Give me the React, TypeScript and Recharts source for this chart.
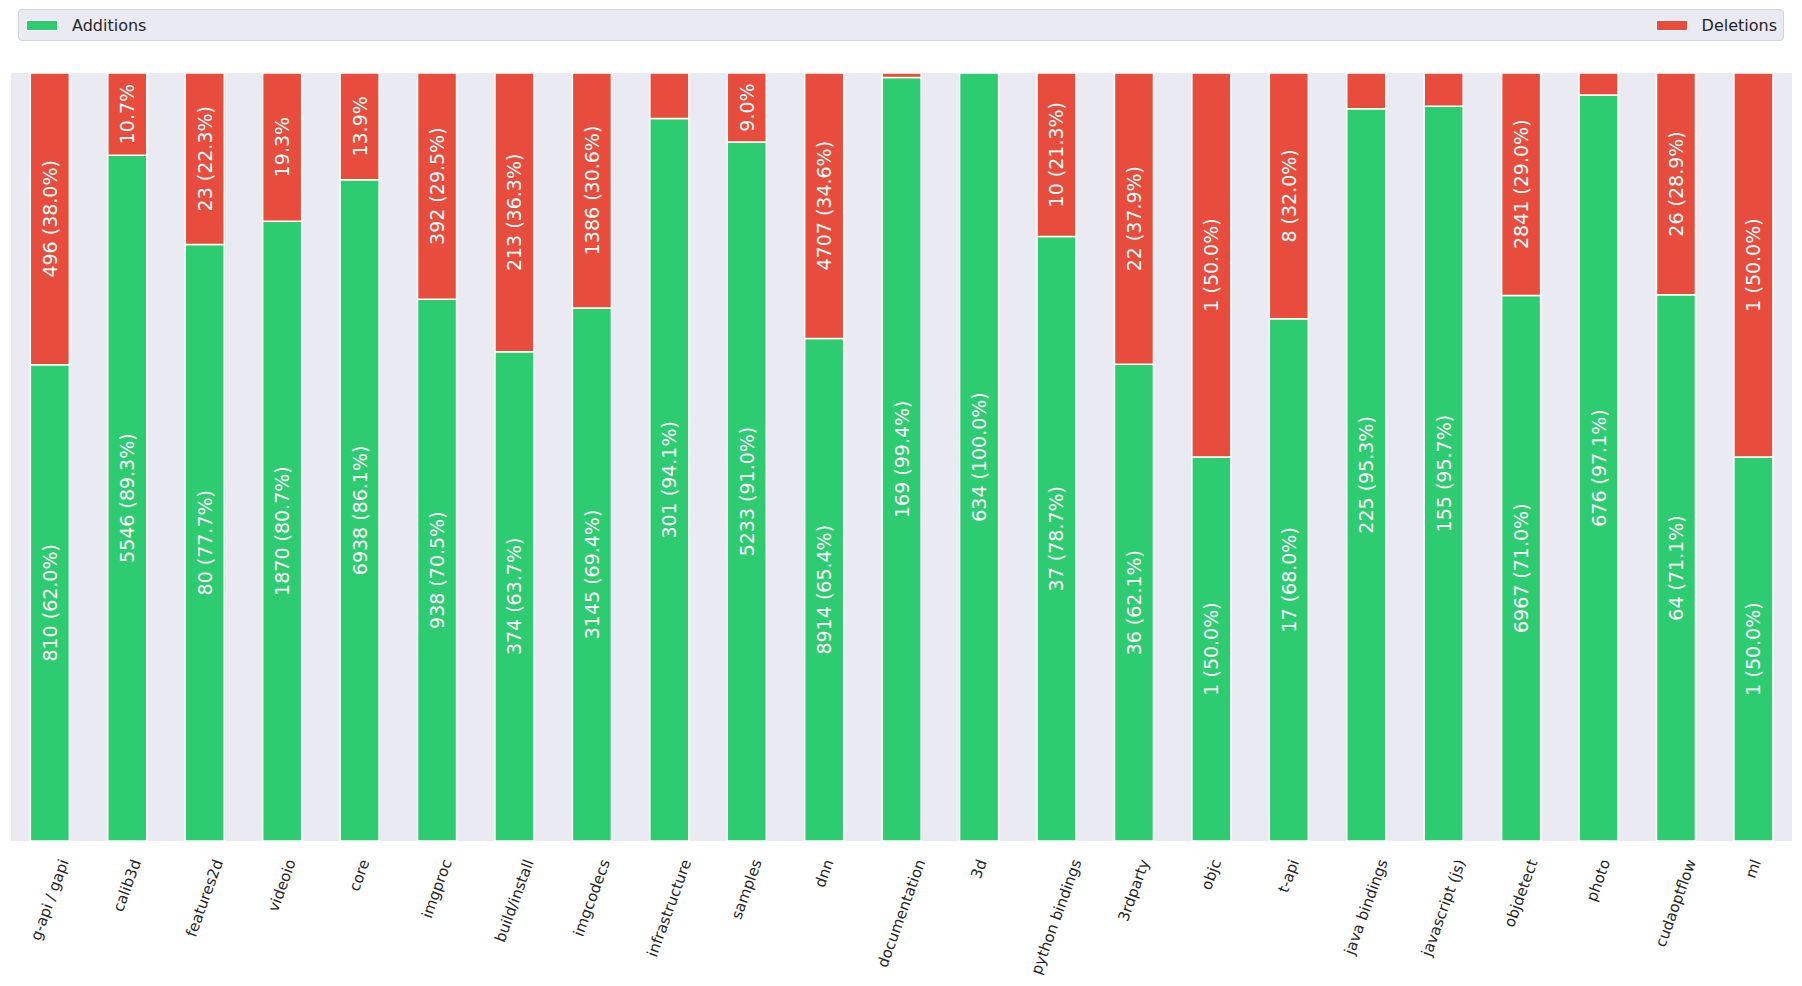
import { Bar, BarChart, CartesianGrid, LabelList, XAxis, YAxis } from "recharts";

const categories = [
  "g-api / gapi", "calib3d", "features2d", "videoio", "core", "imgproc", "build/install",
  "imgcodecs", "infrastructure", "samples", "dnn", "documentation", "3d", "python bindings",
  "3rdparty", "objc", "t-api", "java bindings", "javascript (js)", "objdetect", "photo",
  "cudaoptflow", "ml",
];
const additions = [810, 5546, 80, 1870, 6938, 938, 374, 3145, 301, 5233, 8914, 169, 634, 37, 36, 1, 17, 225, 155, 6967, 676, 64, 1];
const deletions = [496, 665, 23, 447, 1120, 392, 213, 1386, 19, 517, 4707, 1, 0, 10, 22, 1, 8, 11, 7, 2841, 20, 26, 1];
const seriesNames = ["Additions", "Deletions"];
const seriesColors = ["#2ecc71", "#e74c3c"];

// short segments only get the percentage, tiny ones get nothing
function labelText(v: number, total: number) {
  const pct = (v / total) * 100;
  if (pct < 8) return "";
  if (pct < 20) return `${pct.toFixed(1)}%`;
  return `${v} (${pct.toFixed(1)}%)`;
}

const data = categories.map((name, i) => {
  const total = additions[i] + deletions[i];
  return {
    name,
    additions: additions[i],
    deletions: deletions[i],
    additionsLabel: labelText(additions[i], total),
    deletionsLabel: labelText(deletions[i], total),
  };
});

const FONT = "'DejaVu Sans', 'Liberation Sans', sans-serif";
const TICK_SIZE = 15;

let ctx: CanvasRenderingContext2D | null = null;
function textWidth(text: string, size: number) {
  if (!ctx) ctx = document.createElement("canvas").getContext("2d");
  if (!ctx) return text.length * size * 0.6;
  ctx.font = `${size}px 'DejaVu Sans'`;
  return ctx.measureText(text).width;
}

function BarLabel(props: any) {
  const { x, y, width, height, value } = props;
  if (!value) return null;
  const cx = Number(x) + Number(width) / 2;
  const cy = Number(y) + Number(height) / 2;
  return (
    <text
      x={cx}
      y={cy}
      transform={`rotate(-90 ${cx} ${cy})`}
      textAnchor="middle"
      dominantBaseline="central"
      fill="#ffffff"
      fontSize={19}
      fontFamily={FONT}
    >
      {value}
    </text>
  );
}

function RotatedTick(props: any) {
  const { x, y, payload } = props;
  const label = String(payload.value);
  const w = textWidth(label, TICK_SIZE);
  const px = x + 0.171 * w;
  const py = y;
  return (
    <text
      x={px}
      y={py}
      transform={`rotate(-70 ${px} ${py})`}
      textAnchor="end"
      dominantBaseline="central"
      fill="#262626"
      fontSize={TICK_SIZE}
      fontFamily={FONT}
    >
      {label}
    </text>
  );
}

function LegendBox() {
  return (
    <div
      style={{
        position: "absolute",
        left: 18,
        top: 9,
        width: 1766,
        height: 32,
        background: "#eaeaf2",
        border: "1px solid #d3d3d8",
        borderRadius: 4,
        display: "flex",
        alignItems: "center",
        justifyContent: "space-between",
        padding: "0 6px 0 7px",
        boxSizing: "border-box",
        fontFamily: FONT,
        fontSize: 16,
        color: "#262626",
      }}
    >
      {seriesNames.map((name, i) => (
        <div key={name} style={{ display: "flex", alignItems: "center" }}>
          <span
            style={{
              display: "inline-block",
              width: 32,
              height: 11,
              background: seriesColors[i],
              border: "1px solid #ffffff",
              boxSizing: "border-box",
              marginRight: 14,
            }}
          />
          <span>{name}</span>
        </div>
      ))}
    </div>
  );
}

export default function App() {
  return (
    <div style={{ position: "absolute", left: 0, top: 0, width: 1802, height: 986, background: "#ffffff" }}>
      <LegendBox />
      <BarChart
        width={1802}
        height={986}
        data={data}
        stackOffset="expand"
        barCategoryGap="25%"
        margin={{ top: 73, right: 10, bottom: 0, left: 11 }}
      >
        <CartesianGrid fill="#eaeaf2" horizontal={false} vertical={false} stroke="none" />
        <XAxis
          dataKey="name"
          interval={0}
          height={145}
          tickLine={false}
          axisLine={false}
          tickSize={0}
          tickMargin={19}
          tick={<RotatedTick />}
        />
        <YAxis hide domain={[0, 1]} />
        <Bar dataKey="additions" stackId="a" fill={seriesColors[0]} stroke="#ffffff" strokeWidth={1.5} isAnimationActive={false}>
          <LabelList dataKey="additionsLabel" content={<BarLabel />} />
        </Bar>
        <Bar dataKey="deletions" stackId="a" fill={seriesColors[1]} stroke="#ffffff" strokeWidth={1.5} isAnimationActive={false}>
          <LabelList dataKey="deletionsLabel" content={<BarLabel />} />
        </Bar>
      </BarChart>
    </div>
  );
}
